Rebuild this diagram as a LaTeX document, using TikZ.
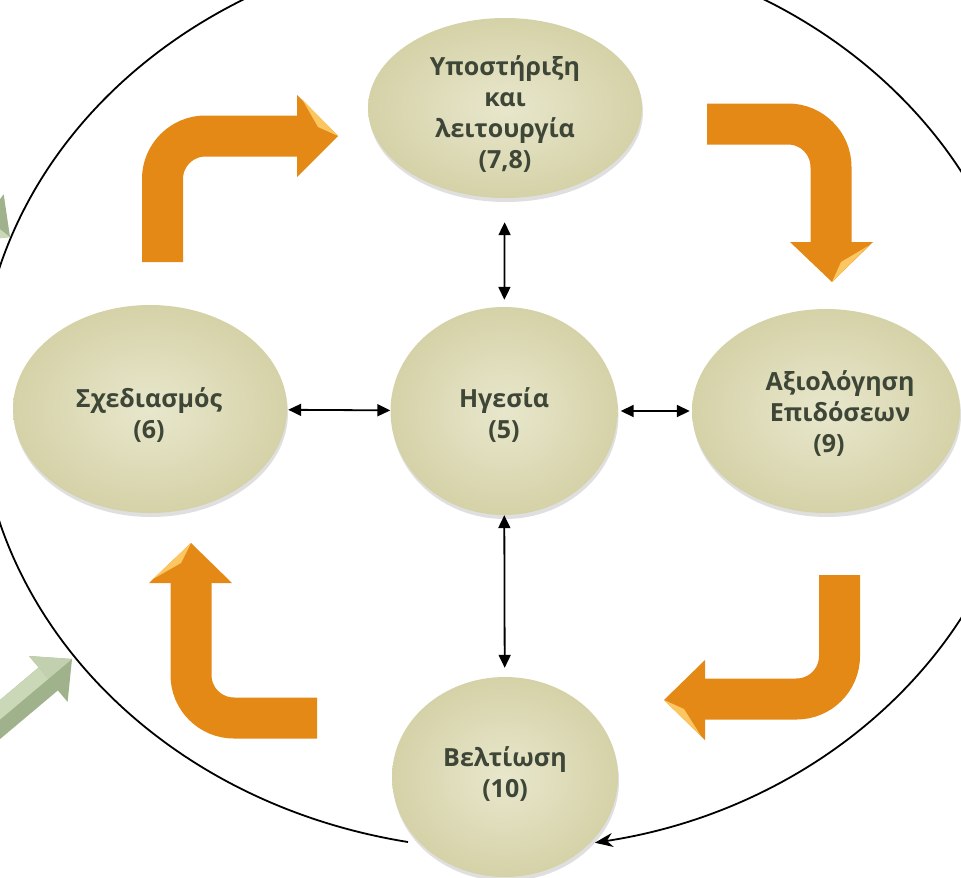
\documentclass[tikz,border=0pt]{standalone}
\usepackage{fontspec}
\setmainfont{Open Sans}
\usetikzlibrary{shapes.geometric,arrows.meta,shadows}
\definecolor{bubtxt}{RGB}{62,70,55}
\definecolor{bubin}{RGB}{232,231,204}
\definecolor{bubout}{RGB}{213,210,168}
\definecolor{orng}{RGB}{229,137,22}
\definecolor{orngl}{RGB}{252,198,96}
\definecolor{grn}{RGB}{160,178,140}
\definecolor{grnl}{RGB}{202,216,184}
\begin{document}
\begin{tikzpicture}[x=1pt,y=-1pt,
  bubble/.style={ellipse, inner sep=0pt, draw=none, inner color=bubin, outer color=bubout,
    drop shadow={opacity=0.25, shadow xshift=1pt, shadow yshift=-4pt}},
  lbl/.style={font=\fontsize{25}{31}\selectfont\bfseries, text=bubtxt, align=center, inner sep=0pt},
  link/.style={{Triangle[length=13pt,width=12pt]}-{Triangle[length=13pt,width=12pt]}, line width=1.8pt, black},
  shaft/.style={orng, line width=41pt, rounded corners=43pt},
  ring/.style={line width=1.8pt, black, -{Stealth[length=18pt,width=14pt]}}]
\useasboundingbox (0,0) rectangle (961,878);
\clip (0,0) rectangle (961,878);
\fill[white] (0,0) rectangle (961,878);

% outer ring
\coordinate (ringstart) at (408,842);
\draw[ring] (ringstart) arc[start angle=259.5, end angle=-80, x radius=525pt, y radius=455pt];

% green arrows (partly outside)
\fill[grn] (-76,764) -- (38.7,667.4) -- (29,656) -- (72,659) -- (67.6,701.9) -- (57.9,690.4) -- (-57,787) -- cycle;
\fill[grnl] (-76,764) -- (38.7,667.4) -- (48.3,678.9) -- (-66.5,775.5) -- cycle;
\fill[grnl!80!grn] (29,656) -- (72,659) -- (48.3,678.9) -- cycle;
\fill[grn] (-124.2,114.6) -- (-5.4,206.3) -- (3.7,194.3) -- (10,237) -- (-32.9,241.9) -- (-23.8,230) -- (-142.6,138.3) -- cycle;
\fill[grnl] (10,237) -- (-14.6,218.1) -- (-32.9,241.9) -- cycle;

% orange bent arrows
\draw[shaft] (162.5,262) -- (162.5,136) -- (298,136);
\fill[orng] (297,95) -- (338,136) -- (297,177) -- cycle;
\fill[orngl] (302,99) -- (338,136) -- (318,127) -- cycle;

\draw[shaft] (707,124) -- (831,124) -- (831,243);
\fill[orng] (790,242) -- (832,282) -- (873,242) -- cycle;
\fill[orngl] (868,246) -- (832,282) -- (841,262) -- cycle;

\draw[shaft] (839.5,575) -- (839.5,699) -- (704,699);
\fill[orng] (705,660) -- (664,700) -- (705,740) -- cycle;
\fill[orngl] (701,736) -- (664,700) -- (684,709) -- cycle;

\draw[shaft] (317,718) -- (191,718) -- (191,582);
\fill[orng] (149,583) -- (191,543) -- (232,583) -- cycle;
\fill[orngl] (153,579) -- (191,543) -- (181,563) -- cycle;

% bubbles
\node[bubble, minimum width=274pt, minimum height=180pt] (sup) at (505,108) {};
\node[bubble, minimum width=227pt, minimum height=208pt] (lead) at (504,411) {};
\node[bubble, minimum width=274pt, minimum height=208pt] (plan) at (150,409) {};
\node[bubble, minimum width=268pt, minimum height=204pt] (eval) at (826,411) {};
\node[bubble, minimum width=226pt, minimum height=200pt] (impr) at (505,777) {};

% links
\draw[link, shorten <=24pt, shorten >=7pt] (sup) -- (lead);
\draw[link, shorten <=1pt] (plan) -- (lead);
\draw[link, shorten <=3pt, shorten >=2pt] (lead) -- (eval);
\draw[link, shorten >=9pt] (lead) -- (impr);

% labels
\node[lbl] (tsup) at (505,114) {Υποστήριξη\\και\\λειτουργία\\(7,8)};
\node[lbl] (tlead) at (504,415) {Ηγεσία\\(5)};
\node[lbl] (tplan) at (149,415) {Σχεδιασμός\\(6)};
\node[lbl] (teval) at (840,414) {Αξιολόγηση\\Επιδόσεων\\(9)\hspace*{22pt}};
\node[lbl] (timpr) at (505,774) {Βελτίωση\\(10)};
\end{tikzpicture}
\end{document}
